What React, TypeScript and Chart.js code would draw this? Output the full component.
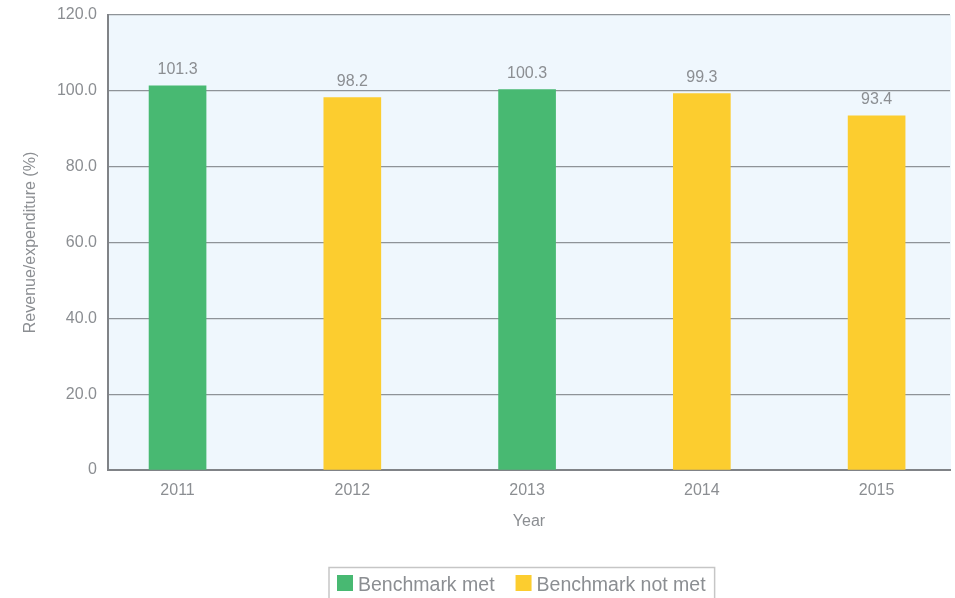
import React, { useEffect, useRef } from 'react';
import { Chart, registerables } from 'chart.js';

Chart.register(...registerables);

const years = [2011, 2012, 2013, 2014, 2015];
const values = [101.3, 98.2, 100.3, 99.3, 93.4];
const benchmarkMet = [true, false, true, false, false];
const legendLabels = ['Benchmark met', 'Benchmark not met'];
const yTicks = [0, 20, 40, 60, 80, 100, 120];

const GREEN = '#48b972';
const YELLOW = '#fccd2f';
const TEXT = '#8b8e92';
const GRID = '#8e9398';
const AXIS = '#808387';
const BG = '#eff7fd';
const FONT = "'Liberation Sans', Arial, sans-serif";

const plotBg = {
  id: 'plotBg',
  beforeDraw(chart: any) {
    const { ctx, chartArea } = chart;
    ctx.save();
    ctx.fillStyle = BG;
    ctx.fillRect(chartArea.left, chartArea.top, chartArea.right - chartArea.left + 1, chartArea.bottom - chartArea.top);
    ctx.restore();
  },
};

const valueLabels = {
  id: 'valueLabels',
  afterDatasetsDraw(chart: any) {
    const { ctx } = chart;
    const meta = chart.getDatasetMeta(0);
    ctx.save();
    ctx.fillStyle = TEXT;
    ctx.font = `16px ${FONT}`;
    ctx.textAlign = 'center';
    ctx.textBaseline = 'middle';
    meta.data.forEach((bar: any, i: number) => {
      ctx.fillText(values[i].toFixed(1), bar.x, bar.y - 16);
    });
    ctx.restore();
  },
};

const boxLegend = {
  id: 'boxLegend',
  afterDraw(chart: any) {
    const { ctx } = chart;
    const colors = [GREEN, YELLOW];
    ctx.save();
    ctx.font = `19.5px ${FONT}`;
    ctx.textBaseline = 'alphabetic';
    ctx.textAlign = 'left';
    const boxLeft = 329;
    const boxTop = 567.5;
    let x = boxLeft + 8;
    legendLabels.forEach((label, i) => {
      ctx.fillStyle = colors[i];
      ctx.fillRect(x, 575, 16, 16);
      x += 21;
      ctx.fillStyle = TEXT;
      ctx.fillText(label, x, 591);
      x += ctx.measureText(label).width;
      if (i < legendLabels.length - 1) x += 21;
    });
    const boxRight = x + 9;
    ctx.strokeStyle = '#c6c6c6';
    ctx.lineWidth = 1.5;
    ctx.strokeRect(boxLeft, boxTop, boxRight - boxLeft, 50);
    ctx.restore();
  },
};

export default function App() {
  const canvasRef = useRef<HTMLCanvasElement | null>(null);

  useEffect(() => {
    if (!canvasRef.current) return;
    const chart = new Chart(canvasRef.current, {
      type: 'bar',
      data: {
        datasets: [
          {
            label: 'Revenue/expenditure (%)',
            data: years.map((y, i) => ({ x: y, y: values[i] })),
            backgroundColor: benchmarkMet.map((m) => (m ? GREEN : YELLOW)),
            borderWidth: 0,
            barThickness: 57,
          },
        ],
      },
      options: {
        animation: false,
        responsive: true,
        maintainAspectRatio: false,
        layout: { padding: { top: 15, right: 5, left: 0, bottom: 0 } },
        plugins: {
          legend: { display: false },
          tooltip: { enabled: false },
        },
        scales: {
          x: {
            type: 'linear',
            offset: false,
            min: 2010.602,
            max: 2015.42,
            afterBuildTicks: (axis: any) => {
              axis.ticks = years.map((v) => ({ value: v }));
            },
            afterFit: (scale: any) => {
              scale.height = 128;
              scale.paddingLeft = 0;
              scale.paddingRight = 0;
            },
            grid: { display: false, drawTicks: false },
            border: { display: true, color: AXIS, width: 2 },
            ticks: {
              color: TEXT,
              font: { family: FONT, size: 16 },
              padding: 11,
              maxRotation: 0,
              callback: (v: any) => String(v),
            },
            title: {
              display: true,
              text: 'Year',
              color: TEXT,
              font: { family: FONT, size: 16 },
              padding: { top: 0, bottom: 66.4 },
            },
          },
          y: {
            min: 0,
            max: 120,
            afterBuildTicks: (axis: any) => {
              axis.ticks = yTicks.map((v) => ({ value: v }));
            },
            afterFit: (scale: any) => {
              scale.width = 108;
              scale.paddingTop = 0;
              scale.paddingBottom = 0;
            },
            grid: { color: GRID, lineWidth: 1.3, drawTicks: false },
            border: { display: true, color: AXIS, width: 2 },
            ticks: {
              color: TEXT,
              font: { family: FONT, size: 16 },
              padding: 11,
              callback: (v: any) => (Number(v) === 0 ? '0' : Number(v).toFixed(1)),
            },
            title: {
              display: true,
              text: 'Revenue/expenditure (%)',
              color: TEXT,
              font: { family: FONT, size: 16 },
              padding: { top: 20.5, bottom: 0 },
            },
          },
        },
      },
      plugins: [plotBg, valueLabels, boxLegend],
    } as any);
    return () => chart.destroy();
  }, []);

  return (
    <div style={{ position: 'fixed', left: 0, top: 0, width: 955, height: 598, background: '#fff' }}>
      <canvas ref={canvasRef} />
    </div>
  );
}
